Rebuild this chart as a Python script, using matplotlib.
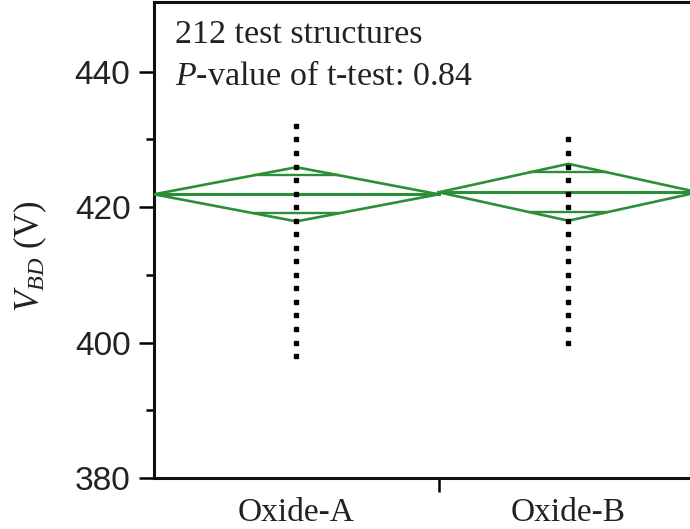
import matplotlib
matplotlib.use("Agg")
import matplotlib.pyplot as plt
from matplotlib.ticker import FixedLocator

plt.rcParams["mathtext.fontset"] = "custom"
plt.rcParams["mathtext.rm"] = "Liberation Serif"
plt.rcParams["mathtext.it"] = "Liberation Serif:italic"

# Groups, sample sizes and summary statistics
groups = ["Oxide-A", "Oxide-B"]
counts = [111, 101]
means = [421.9, 422.2]
ci_half = [4.0, 4.2]

# Distinct breakdown voltages observed in each group (V)
values_a = [398, 400, 402, 404, 406, 408, 410, 412, 414, 416, 418, 420,
            422, 424, 426, 428, 430, 432]
values_b = [400, 402, 404, 406, 408, 410, 412, 414, 416, 418, 420, 422,
            424, 426, 428, 430]
group_values = [values_a, values_b]

annotation_lines = ["212 test structures", r"$P$-value of t-test: 0.84"]

green = "#2a8f37"
W, H = 690, 529
fig = plt.figure(figsize=(W / 100, H / 100), dpi=100)
ax = fig.add_axes([154 / W, 51 / H, 544 / W, 476 / H])

total = sum(counts)
edges = [0]
for n in counts:
    edges.append(edges[-1] + n)
centers = [(edges[i] + edges[i + 1]) / 2 for i in range(len(counts))]

for i in range(len(groups)):
    x0, x1, xc = edges[i], edges[i + 1], centers[i]
    m, h = means[i], ci_half[i]
    hw = (x1 - x0) / 2
    # means diamond
    ax.plot([x0, xc, x1, xc, x0], [m, m + h, m, m - h, m],
            color=green, lw=1.9, solid_joinstyle="miter", zorder=3)
    # mean line
    ax.plot([x0, x1], [m, m], color=green, lw=2.2, zorder=3)
    # overlap marks
    d = h / 2 ** 0.5
    frac = 1 - d / h
    for s in (1, -1):
        ax.plot([xc - hw * frac, xc + hw * frac], [m + s * d, m + s * d],
                color=green, lw=1.7, zorder=3)
    # observed values
    vals = group_values[i]
    ax.plot([xc] * len(vals), vals, ls="none", marker="s", ms=3.4,
            color="black", zorder=4)

ax.set_xlim(0, total)
ax.set_ylim(380, 450.3)

ax.yaxis.set_major_locator(FixedLocator([380, 400, 420, 440]))
ax.yaxis.set_minor_locator(FixedLocator([390, 410, 430]))
ax.tick_params(axis="y", which="major", length=11, width=1.8, pad=6,
               labelsize=24, labelfontfamily="Liberation Sans",
               labelcolor="#222222")
ax.tick_params(axis="y", which="minor", length=6, width=1.8)

ax.set_xticks(centers)
ax.set_xticklabels(groups, fontfamily="Liberation Serif", fontsize=24,
                   color="#222222")
ax.xaxis.set_minor_locator(FixedLocator(edges[1:-1]))
ax.tick_params(axis="x", which="major", length=0, pad=14)
ax.tick_params(axis="x", which="minor", length=10, width=1.8)

for side in ("left", "bottom", "top"):
    ax.spines[side].set_linewidth(2.2)
    ax.spines[side].set_color("#111111")
ax.spines["right"].set_visible(False)

fig.text(30 / W, 1 - 256 / H, r"$V_{BD}$ (V)", rotation=90,
         ha="center", va="center", fontsize=25, family="Liberation Serif",
         color="#222222")

fig.text(175 / W, 1 - 43 / H, annotation_lines[0], ha="left", va="baseline",
         fontsize=24.5, family="Liberation Serif", color="#222222")
fig.text(175 / W, 1 - 85 / H, annotation_lines[1], ha="left", va="baseline",
         fontsize=24.5, family="Liberation Serif", color="#222222")

fig.savefig("out.png", dpi=100)
